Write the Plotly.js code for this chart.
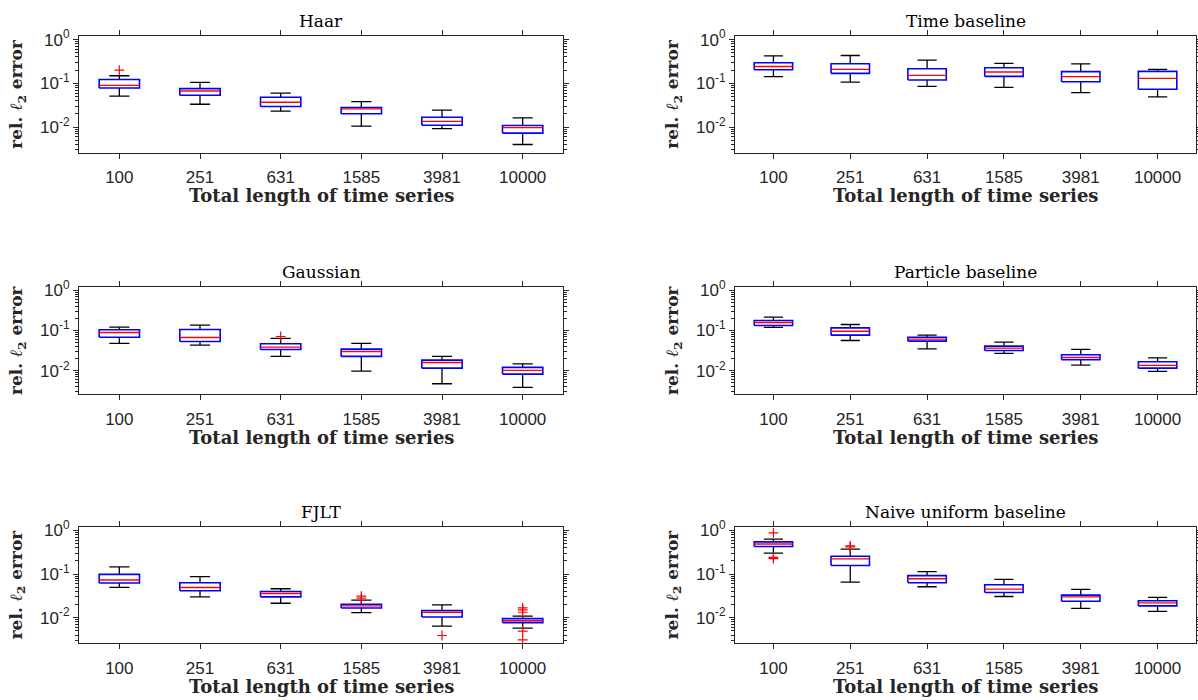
<!DOCTYPE html>
<html>
<head>
<meta charset="utf-8">
<script src="https://cdn.plot.ly/plotly-3.0.1.min.js"></script>
<style>html,body{margin:0;padding:0;background:#fff;}#chart{width:1198px;height:700px;}</style>
</head>
<body>
<div id="chart"></div>
<script>
// ---------------- data ----------------
const categories = ["100", "251", "631", "1585", "3981", "10000"];

const haarLower  = [0.051, 0.0333, 0.0231, 0.0105, 0.0092, 0.0040];
const haarQ1     = [0.078, 0.0534, 0.0295, 0.0201, 0.0110, 0.0073];
const haarMedian = [0.090, 0.0670, 0.0370, 0.0261, 0.0135, 0.0097];
const haarQ3     = [0.122, 0.0757, 0.0480, 0.0280, 0.0168, 0.0109];
const haarUpper  = [0.149, 0.1050, 0.0600, 0.0383, 0.0245, 0.0163];
const haarOutCat = [1];
const haarOutVal = [0.200];

const timeLower  = [0.142, 0.107, 0.0855, 0.081, 0.061, 0.049];
const timeQ1     = [0.205, 0.169, 0.119, 0.144, 0.109, 0.073];
const timeMedian = [0.243, 0.208, 0.152, 0.181, 0.142, 0.130];
const timeQ3     = [0.295, 0.280, 0.216, 0.227, 0.185, 0.187];
const timeUpper  = [0.425, 0.432, 0.339, 0.285, 0.277, 0.208];
const timeOutCat = [];
const timeOutVal = [];

const gaussLower  = [0.0476, 0.0433, 0.0227, 0.0098, 0.00476, 0.00386];
const gaussQ1     = [0.068, 0.0534, 0.0338, 0.0227, 0.0116, 0.00826];
const gaussMedian = [0.089, 0.067, 0.0386, 0.0301, 0.0161, 0.0102];
const gaussQ3     = [0.104, 0.106, 0.0467, 0.0344, 0.0184, 0.0121];
const gaussUpper  = [0.121, 0.136, 0.0634, 0.0476, 0.0227, 0.0149];
const gaussOutCat = [3];
const gaussOutVal = [0.071];

const partLower  = [0.119, 0.0565, 0.0351, 0.0269, 0.0138, 0.0096];
const partQ1     = [0.133, 0.0766, 0.0544, 0.0319, 0.0187, 0.0116];
const partMedian = [0.158, 0.096, 0.061, 0.0365, 0.0214, 0.0136];
const partQ3     = [0.177, 0.116, 0.068, 0.0409, 0.0249, 0.0167];
const partUpper  = [0.214, 0.141, 0.0766, 0.0514, 0.0338, 0.0210];
const partOutCat = [];
const partOutVal = [];

const fjltLower  = [0.0492, 0.030, 0.0214, 0.0131, 0.0064, 0.00578];
const fjltQ1     = [0.062, 0.0412, 0.030, 0.0167, 0.01035, 0.0077];
const fjltMedian = [0.0727, 0.0492, 0.0358, 0.0186, 0.0133, 0.0085];
const fjltQ3     = [0.098, 0.063, 0.0398, 0.0203, 0.01456, 0.0095];
const fjltUpper  = [0.145, 0.0868, 0.0459, 0.0253, 0.0196, 0.0109];
const fjltOutCat = [4, 4, 5, 6, 6, 6, 6, 6];
const fjltOutVal = [0.031, 0.028, 0.0039, 0.0167, 0.0151, 0.0133, 0.0049, 0.0031];

const naiveLower  = [0.300, 0.0653, 0.051, 0.0305, 0.0164, 0.0140];
const naiveQ1     = [0.427, 0.156, 0.063, 0.0378, 0.0238, 0.0186];
const naiveMedian = [0.485, 0.222, 0.078, 0.045, 0.030, 0.0218];
const naiveQ3     = [0.545, 0.256, 0.0916, 0.0568, 0.0328, 0.0243];
const naiveUpper  = [0.630, 0.371, 0.113, 0.0753, 0.0443, 0.029];
const naiveOutCat = [1, 1, 1, 2, 2];
const naiveOutVal = [0.871, 0.240, 0.226, 0.440, 0.420];

const yTickVals = [0.01, 0.1, 1];
const yTickText = ["10<sup>-2</sup>", "10<sup>-1</sup>", "10<sup>0</sup>"];

// ---------------- styling / layout constants ----------------
const W = 1198, H = 700;
const BOX_HALF = 0.25, CAP_HALF = 0.125;
const AX_COLOR = '#262626';
const TICK_FONT = {family: 'Liberation Sans, Arial, sans-serif', size: 17, color: '#262626'};
const SERIF = 'DejaVu Serif, Liberation Serif, serif';

const colsPx = [[79, 563], [735, 1196]];
const rowsPx = [[35.7, 152.7], [286.7, 394.3], [526.5, 643.2]];

const panels = [
  {title: 'Haar', lo: haarLower, q1: haarQ1, med: haarMedian, q3: haarQ3, hi: haarUpper, oc: haarOutCat, ov: haarOutVal},
  {title: 'Time baseline', lo: timeLower, q1: timeQ1, med: timeMedian, q3: timeQ3, hi: timeUpper, oc: timeOutCat, ov: timeOutVal},
  {title: 'Gaussian', lo: gaussLower, q1: gaussQ1, med: gaussMedian, q3: gaussQ3, hi: gaussUpper, oc: gaussOutCat, ov: gaussOutVal},
  {title: 'Particle baseline', lo: partLower, q1: partQ1, med: partMedian, q3: partQ3, hi: partUpper, oc: partOutCat, ov: partOutVal},
  {title: 'FJLT', lo: fjltLower, q1: fjltQ1, med: fjltMedian, q3: fjltQ3, hi: fjltUpper, oc: fjltOutCat, ov: fjltOutVal},
  {title: 'Naive uniform baseline', lo: naiveLower, q1: naiveQ1, med: naiveMedian, q3: naiveQ3, hi: naiveUpper, oc: naiveOutCat, ov: naiveOutVal}
];

// minor tick positions for log axis (2..9 per decade)
const minorVals = [];
for (let d = -3; d <= 0; d++) for (let m = 2; m <= 9; m++) minorVals.push(m * Math.pow(10, d));

const traces = [];
const layout = {
  width: W, height: H,
  margin: {l: 0, r: 0, t: 0, b: 0},
  paper_bgcolor: '#ffffff', plot_bgcolor: '#ffffff',
  showlegend: false,
  annotations: []
};

panels.forEach((p, k) => {
  const row = Math.floor(k / 2), col = k % 2;
  const sfx = k === 0 ? '' : String(k + 1);
  const xa = 'x' + sfx, ya = 'y' + sfx;
  const [x0, x1] = colsPx[col], [y0, y1] = rowsPx[row];

  layout['xaxis' + sfx] = {
    anchor: ya, domain: [x0 / W, x1 / W], range: [0.5, 6.5],
    tickmode: 'array', tickvals: categories.map((c, i) => i + 1), ticktext: categories,
    ticks: 'outside', ticklen: 5, tickwidth: 1, tickcolor: AX_COLOR, ticklabelstandoff: 4,
    showline: true, linecolor: AX_COLOR, linewidth: 1, mirror: 'allticks',
    showgrid: false, zeroline: false, tickfont: TICK_FONT, fixedrange: true
  };
  layout['yaxis' + sfx] = {
    anchor: xa, domain: [1 - y1 / H, 1 - y0 / H], type: 'log', range: [-2.585, 0.088],
    tickmode: 'array', tickvals: yTickVals, ticktext: yTickText,
    ticks: 'outside', ticklen: 5, tickwidth: 1, tickcolor: AX_COLOR,
    minor: {tickmode: 'array', tickvals: minorVals, ticks: 'outside', ticklen: 3, tickwidth: 1, tickcolor: AX_COLOR, showgrid: false},
    showline: true, linecolor: AX_COLOR, linewidth: 1, mirror: 'allticks',
    showgrid: false, zeroline: false, tickfont: TICK_FONT, fixedrange: true
  };

  const wx = [], wy = [];
  const bx = [], by = [];
  const mx = [], my = [];
  categories.forEach((c, i) => {
    const xc = i + 1;
    wx.push(xc, xc, null, xc - CAP_HALF, xc + CAP_HALF, null, xc, xc, null, xc - CAP_HALF, xc + CAP_HALF, null);
    wy.push(p.q3[i], p.hi[i], null, p.hi[i], p.hi[i], null, p.q1[i], p.lo[i], null, p.lo[i], p.lo[i], null);
    bx.push(xc - BOX_HALF, xc + BOX_HALF, xc + BOX_HALF, xc - BOX_HALF, xc - BOX_HALF, null);
    by.push(p.q1[i], p.q1[i], p.q3[i], p.q3[i], p.q1[i], null);
    mx.push(xc - BOX_HALF, xc + BOX_HALF, null);
    my.push(p.med[i], p.med[i], null);
  });
  traces.push({type: 'scatter', mode: 'lines', x: wx, y: wy, xaxis: xa, yaxis: ya,
    line: {color: '#000000', width: 1.3}, hoverinfo: 'skip', connectgaps: false});
  traces.push({type: 'scatter', mode: 'lines', x: bx, y: by, xaxis: xa, yaxis: ya,
    line: {color: '#0000ff', width: 1.6}, hoverinfo: 'skip', connectgaps: false});
  traces.push({type: 'scatter', mode: 'lines', x: mx, y: my, xaxis: xa, yaxis: ya,
    line: {color: '#ff0000', width: 1.4}, hoverinfo: 'skip', connectgaps: false});
  if (p.oc.length) {
    traces.push({type: 'scatter', mode: 'markers', x: p.oc, y: p.ov, xaxis: xa, yaxis: ya,
      marker: {symbol: 'cross-thin', size: 7, line: {color: '#ff0000', width: 1.2}}, hoverinfo: 'skip'});
  }

  const xc = (x0 + x1) / 2 / W;
  layout.annotations.push({text: p.title, xref: 'paper', yref: 'paper', x: xc, y: 1 - (y0 - 15) / H,
    xanchor: 'center', yanchor: 'middle', showarrow: false,
    font: {family: SERIF, size: 17, color: '#000000'}});
  layout.annotations.push({text: 'Total length of time series', xref: 'paper', yref: 'paper', x: xc, y: 1 - (y1 + 43) / H,
    xanchor: 'center', yanchor: 'middle', showarrow: false,
    font: {family: SERIF, size: 18, color: '#262626', weight: 'bold'}});
  layout.annotations.push({text: 'rel. <i>ℓ</i><sub>2</sub> error', xref: 'paper', yref: 'paper', x: (x0 - 61.5) / W, y: 1 - (y0 + y1) / 2 / H,
    xanchor: 'center', yanchor: 'middle', textangle: -90, showarrow: false,
    font: {family: SERIF, size: 17, color: '#262626', weight: 'bold'}});
});

Plotly.newPlot('chart', traces, layout, {staticPlot: true, displayModeBar: false});
</script>
</body>
</html>
